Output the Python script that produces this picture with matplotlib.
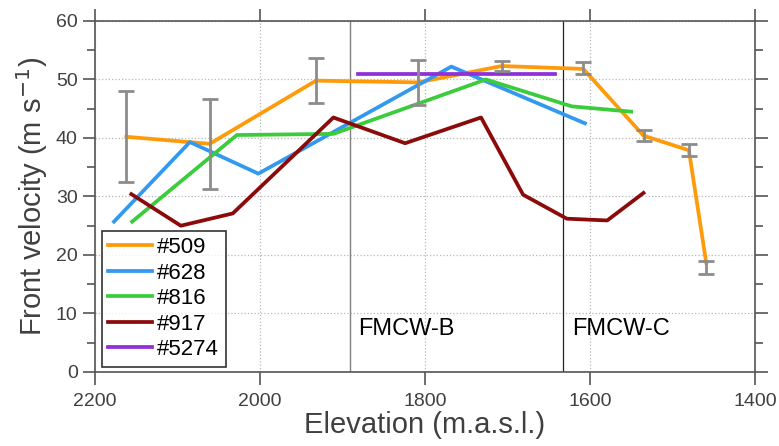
import matplotlib
matplotlib.use('Agg')
import matplotlib.pyplot as plt
from matplotlib.ticker import MultipleLocator

plt.rcParams['font.family'] = ['Liberation Sans', 'DejaVu Sans']

# --- data ---
elev_509 = [2162, 2061, 1932, 1808, 1707, 1608, 1535, 1480, 1459]
vel_509 = [40.2, 39.0, 49.8, 49.5, 52.3, 51.8, 40.4, 37.9, 18.7]
err_lo_509 = [32.5, 31.2, 45.9, 45.6, 51.4, 50.9, 39.4, 37.0, 16.8]
err_hi_509 = [48.1, 46.7, 53.7, 53.3, 53.2, 52.9, 41.4, 39.0, 18.9]

elev_628 = [2177, 2085, 2002, 1768, 1606]
vel_628 = [25.7, 39.3, 33.9, 52.2, 42.5]

elev_816 = [2155, 2028, 1911, 1726, 1622, 1550]
vel_816 = [25.7, 40.5, 40.7, 50.0, 45.4, 44.5]

elev_917 = [2156, 2096, 2033, 1911, 1824, 1732, 1681, 1628, 1579, 1535]
vel_917 = [30.4, 25.0, 27.1, 43.5, 39.1, 43.5, 30.3, 26.2, 25.9, 30.6]

elev_5274 = [1881, 1642]
vel_5274 = [51.0, 51.0]

fmcw_b = 1891
fmcw_c = 1633

fig = plt.figure(figsize=(7.79, 4.46), dpi=100)
ax = fig.add_axes([0.122, 0.166, 0.847, 0.787])

ax.plot(elev_509, vel_509, color='#ff9a0a', lw=2.7, label='#509', zorder=3)
ax.plot(elev_628, vel_628, color='#3399f0', lw=2.7, label='#628', zorder=3)
ax.plot(elev_816, vel_816, color='#3acc3a', lw=2.7, label='#816', zorder=3)
ax.plot(elev_917, vel_917, color='#8b0a0a', lw=2.7, label='#917', zorder=3)
ax.plot(elev_5274, vel_5274, color='#9030d8', lw=2.7, label='#5274', zorder=3)

yerr = [[v - lo for v, lo in zip(vel_509, err_lo_509)],
        [hi - v for v, hi in zip(vel_509, err_hi_509)]]
ax.errorbar(elev_509, vel_509, yerr=yerr, fmt='none', ecolor='#8c8c8c',
            elinewidth=2.0, capsize=6, capthick=2.0, zorder=4)

ax.axvline(fmcw_b, color='#808080', lw=1.0, zorder=2)
ax.axvline(fmcw_c, color='#222222', lw=0.9, zorder=2)
ax.text(1881, 6.3, 'FMCW-B', fontsize=17, color='black', ha='left', va='baseline')
ax.text(1621, 6.3, 'FMCW-C', fontsize=17, color='black', ha='left', va='baseline')

ax.set_xlim(2200, 1400)
ax.set_ylim(0, 60)
ax.xaxis.set_major_locator(MultipleLocator(200))
ax.yaxis.set_major_locator(MultipleLocator(10))
ax.yaxis.set_minor_locator(MultipleLocator(5))
ax.grid(True, which='major', linestyle=':', color='#b8b8b8', lw=0.9)

ax.tick_params(which='both', direction='out', top=True, right=True,
               color='#555555', width=1.2, labelsize=14, labelcolor='#404040')
ax.tick_params(which='major', length=9)
ax.tick_params(which='minor', length=6)
ax.tick_params(axis='x', pad=6)
for s in ax.spines.values():
    s.set_color('#555555')
    s.set_linewidth(1.2)

ax.set_xlabel('Elevation (m.a.s.l.)', fontsize=21, color='#404040', labelpad=1)
ax.set_ylabel('Front velocity (m s$^{-1}$)', fontsize=21, color='#404040', labelpad=4)

leg = ax.legend(loc='lower left', bbox_to_anchor=(0.01, 0.015), fontsize=16,
                frameon=True, fancybox=False, edgecolor='black',
                handlelength=1.95, handletextpad=0.25, labelspacing=0.2,
                borderpad=0.3, borderaxespad=0)
leg.get_frame().set_linewidth(1.2)

fig.savefig('out.png', dpi=100)
